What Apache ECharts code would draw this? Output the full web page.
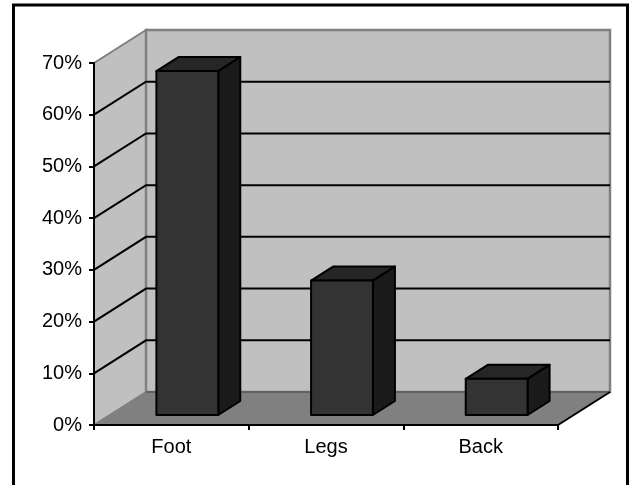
<!DOCTYPE html>
<html>
<head>
<meta charset="utf-8">
<style>
html, body { margin: 0; padding: 0; background: #fff; }
#chart { width: 631px; height: 485px; }
</style>
<script src="https://cdn.jsdelivr.net/npm/echarts@6/dist/echarts.min.js"></script>
</head>
<body>
<div id="chart"></div>
<script>
var categories = ['Foot', 'Legs', 'Back'];
var shares = [0.665, 0.26, 0.07];
var wallTicks = [0.1, 0.2, 0.3, 0.4, 0.5, 0.6];

// depth of the fake 3d box, in pixels
var wallDx = 52, wallDy = -33;
var barShiftX = 16, barShiftY = -10;
var barDx = 22, barDy = -14;

var chart = echarts.init(document.getElementById('chart'), null, { renderer: 'canvas' });

var renderWalls = function (params, api) {
    var cs = params.coordSys;
    var left = cs.x, right = cs.x + cs.width, top = cs.y, bottom = cs.y + cs.height;
    var kids = [];
    // floor
    kids.push({ type: 'polygon', shape: { points: [[left, bottom], [right, bottom], [right + wallDx, bottom + wallDy], [left + wallDx, bottom + wallDy]] },
        style: { fill: '#808080' } });
    // side wall
    kids.push({ type: 'polygon', shape: { points: [[left, top], [left + wallDx, top + wallDy], [left + wallDx, bottom + wallDy], [left, bottom]] },
        style: { fill: '#c0c0c0', stroke: '#808080', lineWidth: 2 } });
    // back wall
    kids.push({ type: 'rect', shape: { x: left + wallDx, y: top + wallDy, width: cs.width, height: cs.height },
        style: { fill: '#c0c0c0', stroke: '#808080', lineWidth: 2.5 } });
    kids.push({ type: 'line', shape: { x1: left + wallDx, y1: bottom + wallDy, x2: right + wallDx, y2: bottom + wallDy },
        style: { stroke: '#595959', lineWidth: 1.5 } });
    // grid lines, bent round the corner
    wallTicks.forEach(function (t) {
        var y = api.coord([0, t])[1];
        kids.push({ type: 'polyline', shape: { points: [[left, y], [left + wallDx, y + wallDy], [right + wallDx, y + wallDy]] },
            style: { fill: null, stroke: '#000', lineWidth: 2 } });
    });
    // front right edge of the floor
    kids.push({ type: 'line', shape: { x1: right, y1: bottom, x2: right + wallDx, y2: bottom + wallDy },
        style: { stroke: '#000', lineWidth: 2 } });
    return { type: 'group', children: kids };
};

var renderBar = function (params, api) {
    var base = api.coord([api.value(0), 0]);
    var head = api.coord([api.value(0), api.value(1)]);
    var w = api.size([1, 0])[0] * 0.4;
    var x0 = base[0] - w / 2 + barShiftX, x1 = x0 + w;
    var y0 = head[1] + barShiftY, y1 = base[1] + barShiftY;
    var edge = { stroke: '#000', lineWidth: 2, lineJoin: 'round' };
    return { type: 'group', children: [
        { type: 'polygon', shape: { points: [[x0, y0], [x0 + barDx, y0 + barDy], [x1 + barDx, y0 + barDy], [x1, y0]] },
            style: Object.assign({ fill: '#262626' }, edge) },
        { type: 'polygon', shape: { points: [[x1, y0], [x1 + barDx, y0 + barDy], [x1 + barDx, y1 + barDy], [x1, y1]] },
            style: Object.assign({ fill: '#1a1a1a' }, edge) },
        { type: 'rect', shape: { x: x0, y: y0, width: w, height: y1 - y0 },
            style: Object.assign({ fill: '#333333' }, edge) }
    ] };
};

var option = {
    backgroundColor: '#fff',
    animation: false,
    textStyle: { fontFamily: '"Liberation Sans", Arial, sans-serif' },
    graphic: [{
        type: 'polyline',
        silent: true,
        shape: { points: [[13.5, 485], [13.5, 5], [627.5, 5], [627.5, 485]] },
        style: { fill: null, stroke: '#000', lineWidth: 3 }
    }],
    grid: { left: 94, top: 63, width: 464, height: 362 },
    xAxis: {
        type: 'category',
        data: categories,
        z: 5,
        axisLine: { lineStyle: { color: '#000', width: 2 } },
        axisTick: { show: true, length: 5, lineStyle: { color: '#000', width: 2 } },
        axisLabel: { color: '#000', fontSize: 20, margin: 12 },
        splitLine: { show: false }
    },
    yAxis: {
        type: 'value',
        min: 0,
        max: 0.7,
        interval: 0.1,
        z: 5,
        axisLine: { show: true, lineStyle: { color: '#000', width: 2 } },
        axisTick: { show: true, length: 5, lineStyle: { color: '#000', width: 2 } },
        axisLabel: {
            color: '#000',
            fontSize: 20,
            margin: 12,
            formatter: function (v) { return Math.round(v * 100) + '%'; }
        },
        splitLine: { show: false }
    },
    series: [
        { type: 'custom', z: 1, silent: true, clip: false, data: [[0, 0]], renderItem: renderWalls },
        { type: 'custom', z: 2, clip: false,
          data: categories.map(function (c, i) { return [i, shares[i]]; }),
          encode: { x: 0, y: 1 },
          renderItem: renderBar }
    ]
};
chart.setOption(option);
</script>
</body>
</html>
